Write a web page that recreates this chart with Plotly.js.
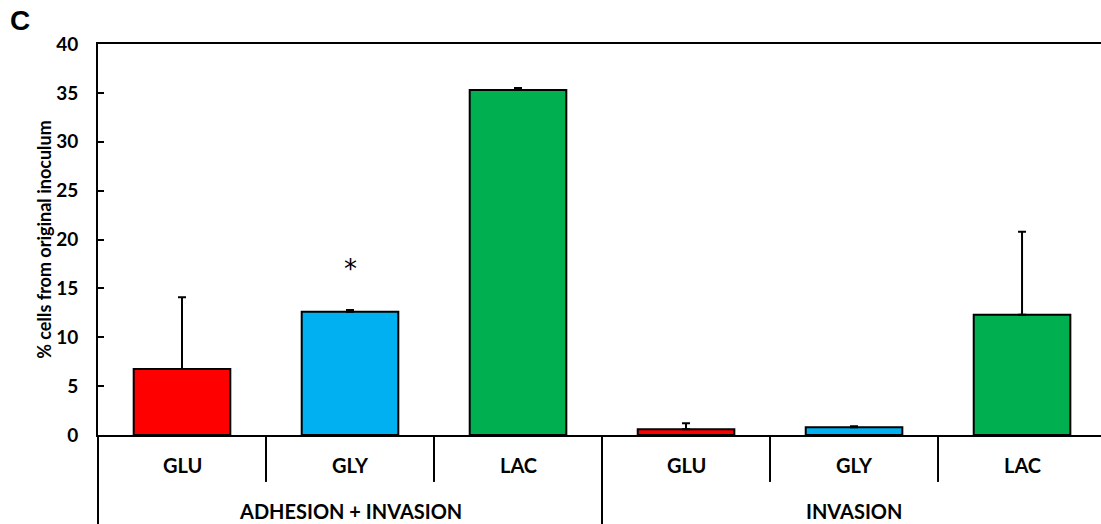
<!DOCTYPE html>
<html>
<head>
<meta charset="utf-8">
<script src="https://cdn.plot.ly/plotly-3.0.1.min.js"></script>
<style>html,body{margin:0;padding:0;background:#fff;overflow:hidden}#chart{width:1101px;height:524px}</style>
</head>
<body>
<div id="chart"></div>
<script>
// Data
const categories = ['GLU', 'GLY', 'LAC', 'GLU', 'GLY', 'LAC'];
const groups = ['ADHESION + INVASION', 'INVASION'];
const values = [6.75, 12.6, 35.3, 0.6, 0.8, 12.3];
const errors = [7.35, 0.2, 0.2, 0.6, 0.1, 8.5];
const barColors = ['#FF0000', '#00B0F0', '#00B050', '#FF0000', '#00B0F0', '#00B050'];
const yTicks = [0, 5, 10, 15, 20, 25, 30, 35, 40];
const starIndex = 1;
const starValue = 17;

const xpos = categories.map((c, i) => i);
const F = 'Lato, "Open Sans", sans-serif';

const trace = {
  type: 'bar',
  x: xpos,
  y: values,
  width: 0.575,
  marker: { color: barColors, line: { color: '#000', width: 2 } },
  error_y: { type: 'data', array: errors, arrayminus: errors.map(() => 0), symmetric: false,
             color: '#000', thickness: 2, width: 4 },
  hoverinfo: 'none'
};

const shapes = [];
shapes.push({ type: 'line', xref: 'paper', yref: 'paper', x0: 0, x1: 0, y0: 0, y1: -0.235, line: { color: '#000', width: 2 } });
for (let i = 0; i < categories.length - 1; i++) {
  const long = (i === 2);
  shapes.push({ type: 'line', xref: 'x', yref: 'paper', x0: i + 0.5, x1: i + 0.5, y0: 0, y1: long ? -0.235 : -0.12,
                line: { color: '#000', width: 2 } });
}

const annotations = [];
categories.forEach((c, i) => {
  annotations.push({ text: '<b>' + c + '</b>', x: i, xref: 'x', y: -0.077, yref: 'paper', showarrow: false,
                     yanchor: 'middle', font: { family: F, size: 20, color: '#000' } });
});
groups.forEach((g, j) => {
  annotations.push({ text: '<b>' + g + '</b>', x: 1 + 3 * j, xref: 'x', y: -0.194, yref: 'paper', showarrow: false,
                     yanchor: 'middle', font: { family: F, size: 20, color: '#000' } });
});
annotations.push({ text: '*', x: starIndex, xref: 'x', y: starValue, yref: 'y', showarrow: false,
                   yanchor: 'middle', font: { family: 'DejaVu Sans, sans-serif', size: 26, color: '#000' } });
annotations.push({ text: '<b>C</b>', x: -0.09, xref: 'paper', xanchor: 'left', y: 1.06, yref: 'paper', yanchor: 'middle', showarrow: false,
                   font: { family: 'Liberation Sans, Arial, sans-serif', size: 28, color: '#000' } });

const layout = {
  width: 1101, height: 524,
  margin: { l: 98, r: 0, t: 44, b: 89, pad: 0 },
  paper_bgcolor: '#fff', plot_bgcolor: '#fff',
  showlegend: false,
  xaxis: { range: [-0.5, 5.47], showticklabels: false, ticks: '', showgrid: false, zeroline: false,
           showline: true, linecolor: '#000', linewidth: 2, mirror: true, fixedrange: true },
  yaxis: { range: [0, 40], tickvals: yTicks, ticktext: yTicks.map(v => '<b>' + v + '</b>'),
           ticks: 'inside', ticklen: 6, tickwidth: 2, tickcolor: '#000', ticklabelstandoff: 14,
           showgrid: false, zeroline: false, showline: true, linecolor: '#000', linewidth: 2,
           tickfont: { family: F, size: 19, color: '#000' },
           title: { text: '<b>% cells from original inoculum</b>', font: { family: F, size: 18, color: '#000' }, standoff: 0 } },
  shapes: shapes,
  annotations: annotations
};

Plotly.newPlot('chart', [trace], layout, { displayModeBar: false, staticPlot: true });
</script>
</body>
</html>
